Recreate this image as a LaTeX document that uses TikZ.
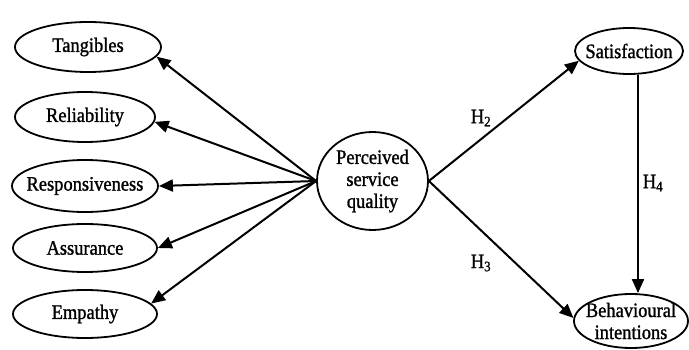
\documentclass[tikz,border=0pt]{standalone}
\usepackage{fontspec}
\setmainfont{Liberation Serif}[FakeStretch=0.9,FakeBold=1.2]
\usetikzlibrary{arrows.meta,shapes.geometric}
\begin{document}
\begin{tikzpicture}[x=1pt,y=-1pt,
  el/.style={draw, ellipse, line width=1.8pt, inner sep=0pt},
  arr/.style={line width=2pt, -{Triangle[length=14pt,width=12pt]}},
  hlab/.style={inner sep=0pt},
  font=\fontsize{20.5}{22}\selectfont]
\useasboundingbox (0,0) rectangle (689,350);
\node[el, minimum width=146pt, minimum height=50pt, label=center:Tangibles] (tang) at (88,47) {};
\node[el, minimum width=140pt, minimum height=50pt, label=center:Reliability] (rel) at (85,117) {};
\node[el, minimum width=146pt, minimum height=52pt, label=center:Responsiveness] (resp) at (85,186) {};
\node[el, minimum width=144pt, minimum height=48pt, label=center:Assurance] (ass) at (85,248) {};
\node[el, minimum width=144pt, minimum height=48pt, label=center:Empathy] (emp) at (85,314) {};
\node[el, minimum width=111pt, minimum height=98pt, label={[align=center]center:Perceived\\service\\quality}] (pq) at (372.5,181) {};
\node[el, minimum width=108pt, minimum height=46pt, label=center:Satisfaction] (sat) at (629,51) {};
\node[el, minimum width=114pt, minimum height=54pt, label={[align=center]center:Behavioural\\intentions}] (beh) at (631,321) {};
\draw[arr] (pq.west) -- (tang.-8);
\draw[arr] (pq.west) -- (rel.-4);
\draw[arr] (pq.west) -- (resp.east);
\draw[arr] (pq.west) -- (ass.east);
\draw[arr] (pq.west) -- (emp.9);
\draw[arr] (pq.east) -- (sat.191);
\draw[arr] (pq.east) -- (beh.177);
\coordinate (s4) at ([xshift=9pt]sat.south);
\draw[arr] (s4) -- (s4 |- beh.north);
\node[hlab] (h2) at (481,118) {H\textsubscript{2}};
\node[hlab] (h3) at (481,263) {H\textsubscript{3}};
\node[hlab] (h4) at (653,183) {H\textsubscript{4}};
\end{tikzpicture}
\end{document}
